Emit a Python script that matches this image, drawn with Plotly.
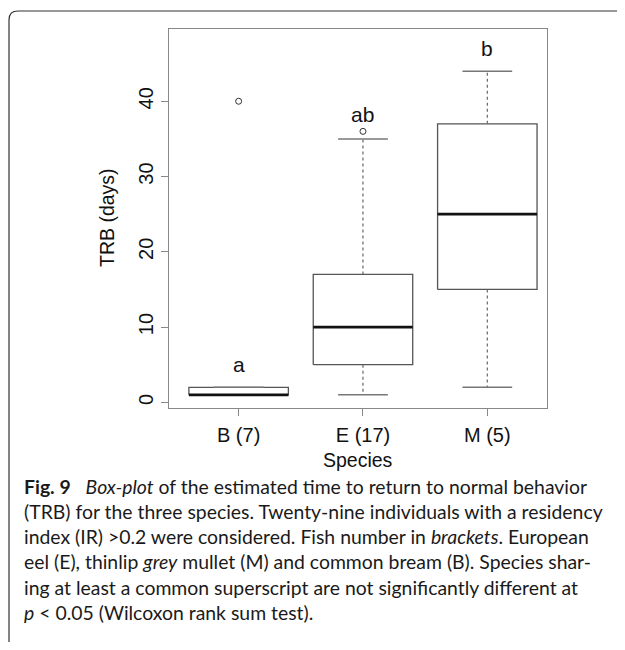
import plotly.graph_objects as go

# box-plot summary per species (days)
species = ["B (7)", "E (17)", "M (5)"]
whisk_lo = [1, 1, 2]
q1 = [1, 5, 15]
median = [1, 10, 25]
q3 = [2, 17, 37]
whisk_hi = [2, 35, 44]
outliers = [[40], [36], []]
letters = ["a", "ab", "b"]
letter_y = [5.0, 38.3, 47.0]

caption = [
    "<b>Fig. 9</b>&nbsp;&nbsp;&nbsp;<i>Box-plot</i> of the estimated time to return to normal behavior",
    "(TRB) for the three species. Twenty-nine individuals with a residency",
    "index (IR) >0.2 were considered. Fish number in <i>brackets</i>. European",
    "eel (E), thinlip <i>grey</i> mullet (M) and common bream (B). Species shar-",
    "ing at least a common superscript are not significantly different at",
    "<i>p</i> < 0.05 (Wilcoxon rank sum test).",
]

# page body keeps an 8px margin, so the figure is shrunk and shifted
OFF = 8
W, H = 625 - OFF, 650 - 2 * OFF
ML, MT = 169 - OFF, 29 - OFF
MR, MB = W - (547 - OFF), H - (408 - OFF)
PW, PH = W - ML - MR, H - MT - MB
half = 0.4

fig = go.Figure()
for i, name in enumerate(species):
    x = i + 1
    fig.add_trace(go.Scatter(
        x=[x - half, x + half, x + half, x - half, x - half],
        y=[q1[i], q1[i], q3[i], q3[i], q1[i]],
        mode="lines", line=dict(color="#555555", width=1.3),
        hoverinfo="skip", showlegend=False))
    for a, b in [(q3[i], whisk_hi[i]), (q1[i], whisk_lo[i])]:
        if a != b:
            fig.add_trace(go.Scatter(
                x=[x, x], y=[a, b], mode="lines",
                line=dict(color="#666666", width=1.2, dash="3px,3px"),
                hoverinfo="skip", showlegend=False))
    for v in [whisk_lo[i], whisk_hi[i]]:
        fig.add_trace(go.Scatter(
            x=[x - half / 2, x + half / 2], y=[v, v], mode="lines",
            line=dict(color="#777777", width=1.5),
            hoverinfo="skip", showlegend=False))
    fig.add_trace(go.Scatter(
        x=[x - half, x + half], y=[median[i], median[i]], mode="lines",
        line=dict(color="#111111", width=2.8),
        hoverinfo="skip", showlegend=False))
    if outliers[i]:
        fig.add_trace(go.Scatter(
            x=[x] * len(outliers[i]), y=outliers[i], mode="markers",
            marker=dict(symbol="circle-open", size=6, color="#333333",
                        line=dict(width=1)),
            hoverinfo="skip", showlegend=False))
    fig.add_annotation(x=x, y=letter_y[i], xref="x", yref="y", text=letters[i],
                       showarrow=False, font=dict(size=21, color="#111111"))

axis_font = dict(family="Liberation Sans, Arial", size=20, color="#111111")
title_font = dict(family="Liberation Sans, Arial", size=19.5, color="#111111")
fig.update_xaxes(range=[0.44, 3.48], tickvals=[1, 2, 3], ticktext=species,
                 showgrid=False, zeroline=False, showline=True, mirror=True,
                 linecolor="#888888", linewidth=1.2, ticks="outside",
                 ticklen=7, tickcolor="#888888", tickfont=axis_font,
                 ticklabelstandoff=2)
fig.update_yaxes(range=[-0.75, 49.6], tickvals=[0, 10, 20, 30, 40],
                 tickangle=-90, showgrid=False, zeroline=False, showline=True,
                 mirror=True, linecolor="#888888", linewidth=1.2,
                 ticks="outside", ticklen=7, tickcolor="#888888",
                 tickfont=axis_font)

def px(p):
    return (p - OFF - ML) / PW

def py(p):
    return 1 - (p - OFF - MT) / PH

fig.add_annotation(x=px(94), y=py(218), xref="paper", yref="paper",
                   text="TRB (days)", textangle=-90, showarrow=False,
                   font=title_font)
fig.add_annotation(x=px(358), y=py(472), xref="paper", yref="paper",
                   text="Species", showarrow=False, font=title_font,
                   borderpad=0)

cap_font = dict(family="Lato, Noto Sans", size=19.4, color="#1a1a1a")
for k, line in enumerate(caption):
    fig.add_annotation(x=px(22), y=py(486 + 25.3 * k), xref="paper",
                       yref="paper", text=line, showarrow=False,
                       xanchor="left", yanchor="middle", font=cap_font)

# outer frame with rounded top-left corner
frame = (f"M {px(9)} {py(H + 2 * OFF)} L {px(9)} {py(20)} "
         f"Q {px(9)} {py(11)} {px(18)} {py(11)} L {px(W + OFF)} {py(11)}")
fig.add_shape(type="path", path=frame, xref="paper", yref="paper",
              line=dict(color="#333333", width=1.2))

fig.update_layout(width=W, height=H, margin=dict(l=ML, r=MR, t=MT, b=MB),
                  plot_bgcolor="white", paper_bgcolor="white",
                  font=axis_font)
fig.write_html("out.html")
